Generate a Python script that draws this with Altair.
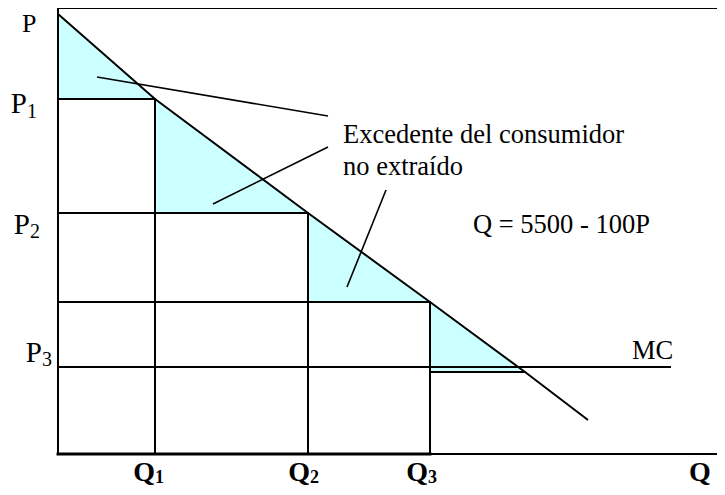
import altair as alt
import pandas as pd

# Chart units: 1 unit = 1 px of the reference plot area
W, H = 659, 446

# Demand curve (schematic, Q = 5500 - 100P)
demand_q = [0, 97, 250, 372, 467, 530]
demand_p = [440, 355, 241, 152, 82, 34]

# Price-discrimination steps (corners on the demand curve)
step_q = [0, 97, 250, 372, 467]
step_p = [440, 355, 241, 152, 82]

# Marginal cost
mc_p = 87
mc_end_q = 612

# Pointer lines from the annotation text to the shaded triangles
ptr_x = [39, 155, 289]
ptr_y = [377, 250, 167]
ptr_x2 = [270, 270, 328]
ptr_y2 = [338, 307, 264]

# Annotations
note_text = ["Excedente del consumidor", "no extraído", "Q = 5500 - 100P", "MC"]
note_x = [285, 285, 415, 574]
note_y = [311, 279, 221, 95]

# Price labels
p_main = ["P", "P", "P"]
p_sub = ["1", "2", "3"]
p_anchor_x = [-31, -28, -16]
p_main_y = [341, 220, 92]
p_sub_y = [336, 216, 88]
p_top_x, p_top_y = -36, 422.5

# Quantity labels
q_main = ["Q", "Q", "Q"]
q_sub = ["1", "2", "3"]
q_anchor_x = [97, 252, 370]
q_main_y = -26.5
q_sub_y = -29
q_axis_x = 642

# ---------- tables ----------
tri_rows = []
for i in range(len(step_q) - 1):
    tri_rows.append({"tri": i, "q": step_q[i], "p": step_p[i], "base": step_p[i + 1]})
    tri_rows.append({"tri": i, "q": step_q[i + 1], "p": step_p[i + 1], "base": step_p[i + 1]})
tri_df = pd.DataFrame(tri_rows)

dem_df = pd.DataFrame({"q": demand_q, "p": demand_p, "i": range(len(demand_q))})

seg_rows = []
# horizontal price lines from the axis to each step corner
for i in range(1, len(step_q) - 1):
    seg_rows.append({"x": 0, "x2": step_q[i], "y": step_p[i], "y2": step_p[i]})
# vertical quantity lines
for i in range(1, len(step_q) - 1):
    seg_rows.append({"x": step_q[i], "x2": step_q[i], "y": 0, "y2": step_p[i]})
# last triangle base
seg_rows.append({"x": step_q[3], "x2": step_q[4], "y": step_p[4], "y2": step_p[4]})
# MC line
seg_rows.append({"x": 0, "x2": mc_end_q, "y": mc_p, "y2": mc_p})
# frame: left axis, top line, bottom axis
seg_rows.append({"x": 0, "x2": 0, "y": 0, "y2": H})
seg_rows.append({"x": 0, "x2": W, "y": H, "y2": H})
seg_rows.append({"x": 0, "x2": W, "y": 0, "y2": 0})
seg_df = pd.DataFrame(seg_rows)

thick_df = pd.DataFrame({"x": [0], "x2": [step_q[3]], "y": [0], "y2": [0]})

ptr_df = pd.DataFrame({"x": ptr_x, "y": ptr_y, "x2": ptr_x2, "y2": ptr_y2})
note_df = pd.DataFrame({"t": note_text, "x": note_x, "y": note_y})

pm_df = pd.DataFrame({"t": p_main, "x": p_anchor_x, "y": p_main_y})
pt_df = pd.DataFrame({"t": ["P"], "x": [p_top_x], "y": [p_top_y]})
ps_df = pd.DataFrame({"t": p_sub, "x": p_anchor_x, "y": p_sub_y})

qm_df = pd.DataFrame({"t": q_main, "x": q_anchor_x, "y": [q_main_y] * 3})
qs_df = pd.DataFrame({"t": q_sub, "x": q_anchor_x, "y": [q_sub_y] * 3})
qa_df = pd.DataFrame({"t": ["Q"], "x": [q_axis_x], "y": [q_main_y]})

xs = alt.Scale(domain=[0, W], nice=False, zero=False)
ys = alt.Scale(domain=[0, H], nice=False, zero=False)


def X(f):
    return alt.X(f, type="quantitative", scale=xs, axis=None)


def Y(f):
    return alt.Y(f, type="quantitative", scale=ys, axis=None)


FONT = "Liberation Serif"

shade = alt.Chart(tri_df).mark_area(color="#CCFFFF", opacity=1).encode(
    x=X("q"), y=Y("p"), y2="base", detail="tri:N")

segs = alt.Chart(seg_df).mark_rule(color="black", strokeWidth=2, strokeCap="square").encode(
    x=X("x"), x2="x2", y=Y("y"), y2="y2")

thick = alt.Chart(thick_df).mark_rule(color="black", strokeWidth=3, strokeCap="square").encode(
    x=X("x"), x2="x2", y=Y("y"), y2="y2")

demand = alt.Chart(dem_df).mark_line(color="black", strokeWidth=2).encode(
    x=X("q"), y=Y("p"), order="i:Q")

ptrs = alt.Chart(ptr_df).mark_rule(color="black", strokeWidth=1.6).encode(
    x=X("x"), x2="x2", y=Y("y"), y2="y2")

notes = alt.Chart(note_df).mark_text(align="left", baseline="alphabetic", font=FONT,
                                     fontSize=26.5, color="black").encode(
    x=X("x"), y=Y("y"), text="t:N")

p_mains = alt.Chart(pm_df).mark_text(align="right", baseline="alphabetic", font=FONT,
                                     fontSize=29, color="black").encode(
    x=X("x"), y=Y("y"), text="t:N")
p_top = alt.Chart(pt_df).mark_text(align="left", baseline="alphabetic", font=FONT,
                                   fontSize=26, color="black").encode(
    x=X("x"), y=Y("y"), text="t:N")
p_subs = alt.Chart(ps_df).mark_text(align="left", baseline="alphabetic", font=FONT,
                                    fontSize=20, color="black").encode(
    x=X("x"), y=Y("y"), text="t:N")

q_mains = alt.Chart(qm_df).mark_text(align="right", baseline="alphabetic", font=FONT,
                                     fontSize=28, fontWeight="bold", color="black").encode(
    x=X("x"), y=Y("y"), text="t:N")
q_subs = alt.Chart(qs_df).mark_text(align="left", baseline="alphabetic", font=FONT,
                                    fontSize=18, fontWeight="bold", color="black").encode(
    x=X("x"), y=Y("y"), text="t:N")
q_axis = alt.Chart(qa_df).mark_text(align="center", baseline="alphabetic", font=FONT,
                                    fontSize=28, fontWeight="bold", color="black").encode(
    x=X("x"), y=Y("y"), text="t:N")

chart = alt.layer(
    shade, segs, thick, demand, ptrs, notes,
    p_mains, p_top, p_subs, q_mains, q_subs, q_axis
).properties(
    width=W, height=H,
    padding={"left": 50, "top": 0, "right": 0, "bottom": 33},
    autosize=alt.AutoSizeParams(type="none"),
    background="white",
).configure_view(stroke=None)

chart.save("out.html", embed_options={"renderer": "svg", "actions": False})
